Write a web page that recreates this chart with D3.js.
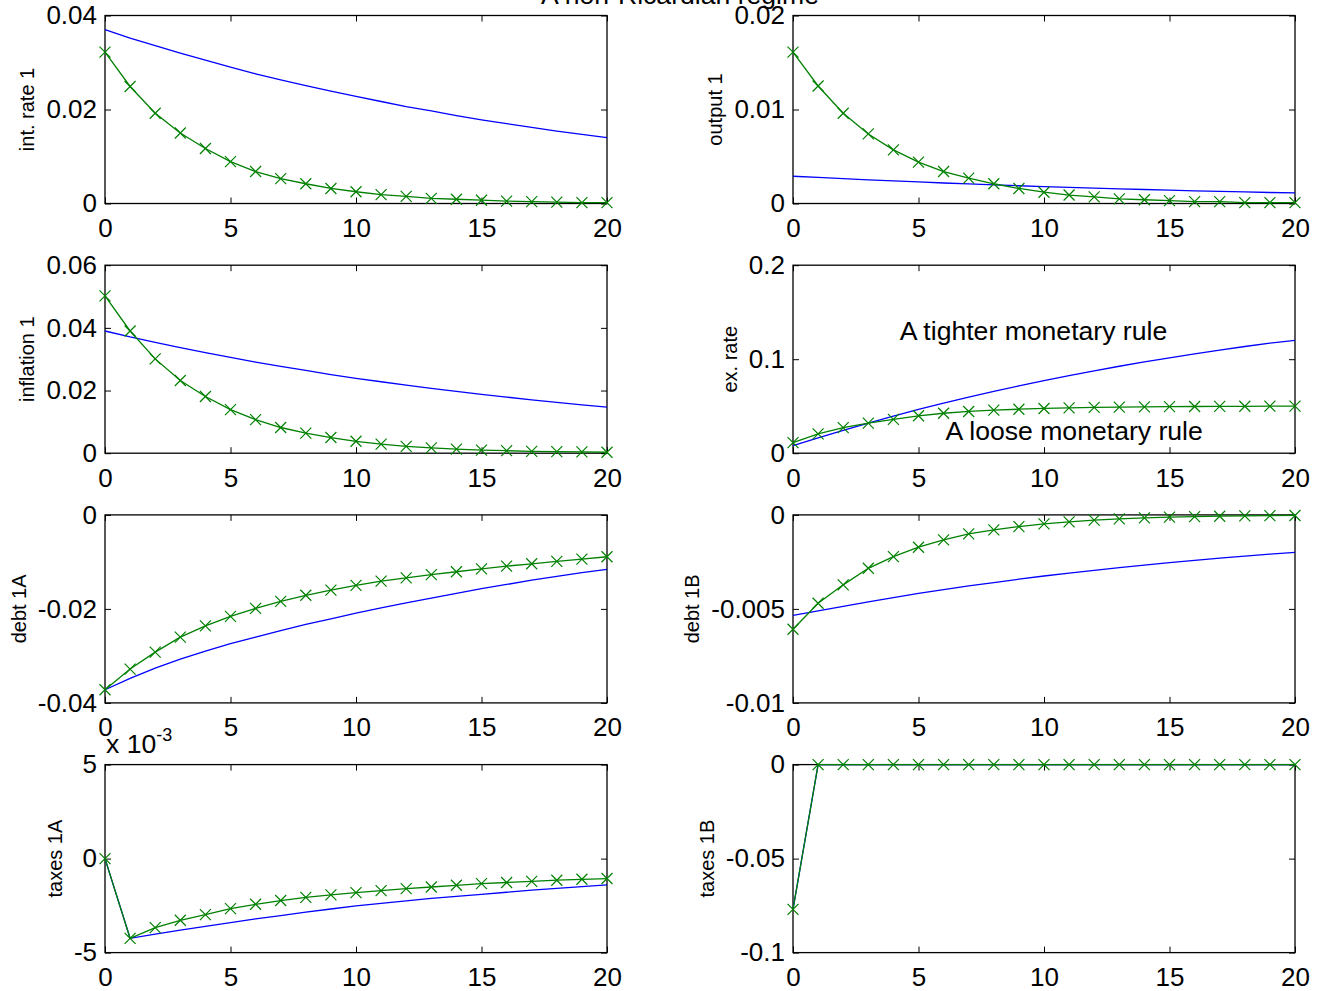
<!DOCTYPE html>
<html>
<head>
<meta charset="utf-8">
<title>A non-Ricardian regime</title>
<script src="https://d3js.org/d3.v7.min.js"></script>
<style>
  body { margin: 0; background: #fff; }
  svg { display: block; }
  text { font-family: "Liberation Sans", Arial, Helvetica, sans-serif; fill: #000; }
  .tick text { font-size: 26px; }
  .big { font-size: 26.6px; }
  .ylab { font-size: 20px; }
  .frame { fill: none; stroke: #000; stroke-width: 1.3px; }
  .line { fill: none; stroke-width: 1.3px; }
  .mark { fill: none; stroke-width: 1.2px; }
</style>
</head>
<body>
<svg></svg>
<script>
// horizon (periods after the shock)
const periods = [0,1,2,3,4,5,6,7,8,9,10,11,12,13,14,15,16,17,18,19,20];

// blue = tighter monetary rule, green = loose monetary rule
const intRateTight = [0.0370,0.0352,0.0336,0.0320,0.0305,0.0290,0.0276,0.0263,0.0251,0.0239,0.0228,0.0217,0.0206,0.0197,0.0187,0.0178,0.0170,0.0162,0.0154,0.0147,0.0140];
const intRateLoose = [0.0322,0.0249,0.0192,0.0150,0.0117,0.0089,0.0068,0.0053,0.0042,0.0032,0.0025,0.0019,0.0015,0.0011,0.0009,0.0007,0.0005,0.0004,0.0003,0.0002,0.0002];

const outputTight = [0.00290,0.00277,0.00264,0.00251,0.00240,0.00229,0.00218,0.00208,0.00198,0.00189,0.00180,0.00172,0.00164,0.00156,0.00149,0.00142,0.00135,0.00129,0.00123,0.00117,0.00112];
const outputLoose = [0.0161,0.0125,0.0096,0.0074,0.0057,0.0044,0.0034,0.0027,0.0021,0.0016,0.0012,0.0009,0.0007,0.0005,0.0004,0.0003,0.0002,0.0002,0.0001,0.0001,0.0001];

const inflationTight = [0.0390,0.0371,0.0354,0.0337,0.0321,0.0306,0.0291,0.0277,0.0264,0.0251,0.0239,0.0228,0.0217,0.0207,0.0197,0.0188,0.0179,0.0170,0.0162,0.0154,0.0147];
const inflationLoose = [0.0502,0.0390,0.0301,0.0232,0.0181,0.0139,0.0107,0.0082,0.0064,0.0050,0.0038,0.0029,0.0022,0.0017,0.0013,0.0010,0.0008,0.0006,0.0005,0.0004,0.0003];

const exRateTight = [0.0080,0.0164,0.0244,0.0321,0.0394,0.0465,0.0532,0.0596,0.0657,0.0716,0.0772,0.0825,0.0876,0.0925,0.0971,0.1015,0.1057,0.1097,0.1135,0.1171,0.1200];
const exRateLoose = [0.0113,0.0205,0.0272,0.0320,0.0360,0.0398,0.0425,0.0444,0.0458,0.0468,0.0476,0.0482,0.0487,0.0490,0.0493,0.0495,0.0497,0.0498,0.0499,0.0500,0.0500];

const debt1ATight = [-0.0372,-0.0348,-0.0326,-0.0307,-0.0290,-0.0274,-0.0260,-0.0246,-0.0233,-0.0221,-0.0209,-0.0198,-0.0187,-0.0177,-0.0167,-0.0157,-0.0148,-0.0139,-0.0131,-0.0123,-0.0116];
const debt1ALoose = [-0.0372,-0.0328,-0.0292,-0.0260,-0.0236,-0.0216,-0.0199,-0.0184,-0.0171,-0.0160,-0.0150,-0.0141,-0.0134,-0.0127,-0.0121,-0.0115,-0.0109,-0.0104,-0.0099,-0.0094,-0.0089];

const debt1BTight = [-0.00534,-0.00510,-0.00486,-0.00463,-0.00440,-0.00417,-0.00397,-0.00378,-0.00360,-0.00342,-0.00325,-0.00310,-0.00295,-0.00281,-0.00267,-0.00254,-0.00242,-0.00230,-0.00219,-0.00209,-0.00199];
const debt1BLoose = [-0.00608,-0.00470,-0.00372,-0.00284,-0.00222,-0.00172,-0.00133,-0.00101,-0.00080,-0.00062,-0.00048,-0.00037,-0.00028,-0.00021,-0.00016,-0.00012,-0.00009,-0.00007,-0.00005,-0.00004,-0.00003];

const taxes1ATight = [0,-0.00424,-0.00402,-0.00380,-0.00360,-0.00340,-0.00321,-0.00303,-0.00285,-0.00268,-0.00252,-0.00238,-0.00225,-0.00212,-0.00201,-0.00190,-0.00179,-0.00168,-0.00158,-0.00149,-0.00140];
const taxes1ALoose = [0,-0.00424,-0.00367,-0.00328,-0.00298,-0.00266,-0.00243,-0.00223,-0.00206,-0.00193,-0.00181,-0.00170,-0.00160,-0.00151,-0.00142,-0.00133,-0.00127,-0.00121,-0.00115,-0.00110,-0.00106];

const taxes1BTight = [-0.077,0,0,0,0,0,0,0,0,0,0,0,0,0,0,0,0,0,0,0,0];
const taxes1BLoose = [-0.077,0,0,0,0,0,0,0,0,0,0,0,0,0,0,0,0,0,0,0,0];

// panel descriptions, in subplot order (row by row)
const yLabels  = ["int. rate 1", "output 1", "inflation 1", "ex. rate", "debt 1A", "debt 1B", "taxes 1A", "taxes 1B"];
const yDomains = [[0,0.04], [0,0.02], [0,0.06], [0,0.2], [-0.04,0], [-0.01,0], [-0.005,0.005], [-0.1,0]];
const yTicks   = [[0,0.02,0.04], [0,0.01,0.02], [0,0.02,0.04,0.06], [0,0.1,0.2],
                  [-0.04,-0.02,0], [-0.01,-0.005,0], [-0.005,0,0.005], [-0.1,-0.05,0]];
const yExponents = [0, 0, 0, 0, 0, 0, -3, 0];
const xTicks = [0, 5, 10, 15, 20];
const tightSeries = [intRateTight, outputTight, inflationTight, exRateTight, debt1ATight, debt1BTight, taxes1ATight, taxes1BTight];
const looseSeries = [intRateLoose, outputLoose, inflationLoose, exRateLoose, debt1ALoose, debt1BLoose, taxes1ALoose, taxes1BLoose];

// text annotations (panel index, period, value)
const notes = [
  { panel: 3, text: "A tighter monetary rule", t: 4.25, v: 0.1205 },
  { panel: 3, text: "A loose monetary rule",  t: 6.08, v: 0.0141 }
];
const title = "A non-Ricardian regime";

const width = 1324, height = 991;
const colLeft = [105, 793], plotW = 502;
const rowTop0 = 15.5, rowStep = 249.7, plotH = 188;
const blue = "#0000ff", green = "#008000";

const svg = d3.select("svg").attr("width", width).attr("height", height);

svg.append("text")
  .attr("class", "big")
  .attr("x", 680).attr("y", 4)
  .attr("text-anchor", "middle")
  .text(title);

const fmt = v => String(+v.toPrecision(6));

yLabels.forEach((label, i) => {
  const left = colLeft[i % 2];
  const top = rowTop0 + Math.floor(i / 2) * rowStep;
  const g = svg.append("g").attr("transform", `translate(${left},${top})`);

  const x = d3.scaleLinear().domain([0, 20]).range([0, plotW]);
  const y = d3.scaleLinear().domain(yDomains[i]).range([plotH, 0]);
  const expo = yExponents[i];
  const yFmt = expo ? (v => fmt(v / Math.pow(10, expo))) : fmt;

  g.append("rect").attr("class", "frame")
    .attr("width", plotW).attr("height", plotH);

  const xb = g.append("g").attr("transform", `translate(0,${plotH})`)
    .call(d3.axisBottom(x).tickValues(xTicks).tickFormat(fmt)
      .tickSizeInner(-6).tickSizeOuter(0).tickPadding(15));
  const xt = g.append("g")
    .call(d3.axisTop(x).tickValues(xTicks).tickFormat("")
      .tickSizeInner(-6).tickSizeOuter(0));
  const yl = g.append("g")
    .call(d3.axisLeft(y).tickValues(yTicks[i]).tickFormat(yFmt)
      .tickSizeInner(-6).tickSizeOuter(0).tickPadding(8));
  const yr = g.append("g").attr("transform", `translate(${plotW},0)`)
    .call(d3.axisRight(y).tickValues(yTicks[i]).tickFormat("")
      .tickSizeInner(-6).tickSizeOuter(0));
  [xb, xt, yl, yr].forEach(a => a.select(".domain").remove());

  // y label placed left of the widest tick label
  const bb = yl.node().getBBox();
  g.append("text")
    .attr("class", "ylab")
    .attr("transform", `translate(${bb.x - 12},${plotH / 2}) rotate(-90)`)
    .attr("text-anchor", "middle")
    .text(label);

  if (expo) {
    const ex = g.append("text").attr("class", "big")
      .attr("x", 1).attr("y", -12);
    ex.append("tspan").text("x 10");
    ex.append("tspan").attr("dy", -12).style("font-size", "18px").text(String(expo));
  }

  const line = d3.line().x((d, k) => x(periods[k])).y(d => y(d));

  g.append("path").attr("class", "line")
    .attr("stroke", blue).attr("d", line(tightSeries[i]));
  g.append("path").attr("class", "line")
    .attr("stroke", green).attr("d", line(looseSeries[i]));

  const s = 5.5;
  g.append("g").selectAll("path")
    .data(looseSeries[i])
    .join("path")
      .attr("class", "mark")
      .attr("stroke", green)
      .attr("transform", (d, k) => `translate(${x(periods[k])},${y(d)})`)
      .attr("d", `M${-s},${-s}L${s},${s}M${-s},${s}L${s},${-s}`);

  notes.filter(n => n.panel === i).forEach(n => {
    g.append("text").attr("class", "big")
      .attr("x", x(n.t)).attr("y", y(n.v))
      .text(n.text);
  });
});
</script>
</body>
</html>
